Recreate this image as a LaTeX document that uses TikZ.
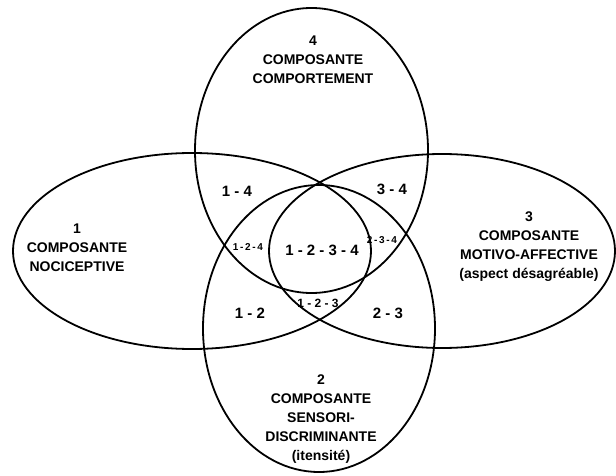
\documentclass[tikz,border=0pt]{standalone}
\usepackage{fontspec}
\setmainfont{Liberation Sans}
\begin{document}
\begin{tikzpicture}[x=1pt,y=-1pt,
  ring/.style={line width=1.8pt},
  title/.style={font=\fontsize{14}{19}\selectfont\bfseries, align=center, inner sep=0pt},
  zone/.style={font=\fontsize{15}{18}\selectfont\bfseries, inner sep=0pt},
  midzone/.style={font=\fontsize{12}{14}\selectfont\bfseries, inner sep=0pt},
  tinyzone/.style={font=\fontsize{10}{12}\selectfont\bfseries, inner sep=0pt}]
\useasboundingbox (0,0) rectangle (616,476);
\fill[white] (0,0) rectangle (616,476);
% centres of the four components
\coordinate (c1) at (192,251);
\coordinate (c3) at (442,251);
\coordinate (c4) at (311.5,150.5);
\coordinate (c2) at (319,328.5);
\draw[ring] (c1) ellipse [x radius=179pt, y radius=98pt];
\draw[ring] (c3) ellipse [x radius=173pt, y radius=97pt];
\draw[ring] (c4) ellipse [x radius=116.5pt, y radius=142.5pt];
\draw[ring] (c2) ellipse [x radius=116pt, y radius=143.5pt];
% component titles
\node[title] (t4) at (313,60) {4\\COMPOSANTE\\COMPORTEMENT};
\node[title] (t1) at (77,248) {1\\COMPOSANTE\\NOCICEPTIVE};
\node[title] (t3) at (529,246.5) {3\\COMPOSANTE\\MOTIVO-AFFECTIVE\\(aspect désagréable)};
\node[title] (t2) at (321,419) {2\\COMPOSANTE\\SENSORI-\\DISCRIMINANTE\\(itensité)};
% overlap zones
\node[zone] (z14) at (237,191) {1 - 4};
\node[zone] (z34) at (392,189) {3 - 4};
\node[zone] (z1234) at (322,250) {1 - 2 - 3 - 4};
\node[zone] (z12) at (250,313) {1 - 2};
\node[zone] (z23) at (388,313) {2 - 3};
\node[midzone] (z123) at (318,303) {1 - 2 - 3};
\node[tinyzone] (z124) at (248,247) {1\,-\,2\,-\,4};
\node[tinyzone] (z234) at (382,240) {2\,-\,3\,-\,4};
\end{tikzpicture}
\end{document}
